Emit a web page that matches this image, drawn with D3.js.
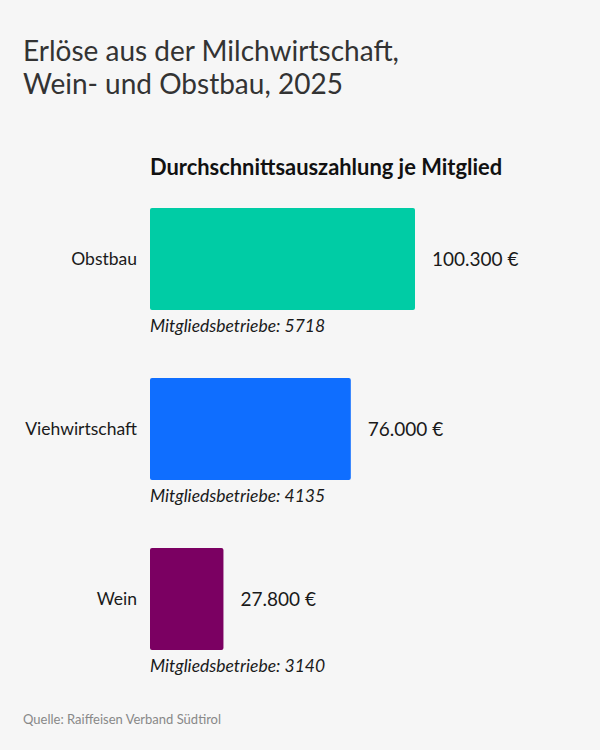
<!DOCTYPE html>
<html>
<head>
<meta charset="utf-8">
<script src="https://cdn.jsdelivr.net/npm/d3@7"></script>
<style>
  html, body { margin: 0; padding: 0; background: #f6f6f6; }
  svg { display: block; font-family: Lato, "Noto Sans", sans-serif; }
</style>
</head>
<body>
<div id="chart"></div>
<script>
const categories = ["Obstbau", "Viehwirtschaft", "Wein"];
const values = [100300, 76000, 27800];
const members = [5718, 4135, 3140];
const colors = ["#00cca5", "#0f6eff", "#7b0062"];
const titleLines = ["Erlöse aus der Milchwirtschaft,", "Wein- und Obstbau, 2025"];
const subtitle = "Durchschnittsauszahlung je Mitglied";
const source = "Quelle: Raiffeisen Verband Südtirol";

const W = 600, H = 750;
const svg = d3.select("#chart").append("svg").attr("width", W).attr("height", H);
svg.append("rect").attr("width", W).attr("height", H).attr("fill", "#f6f6f6");

const x = d3.scaleLinear().domain([0, d3.max(values)]).range([150, 415]);
const y = d3.scaleBand().domain(categories).range([208, 650]).paddingInner(0.4).paddingOuter(0);

const fmt = v => d3.format(",")(v).replace(/,/g, ".") + " €";

// Title
svg.append("g").selectAll("text").data(titleLines).join("text")
  .attr("x", 23).attr("y", (d, i) => 61 + i * 33)
  .attr("font-size", 28).attr("font-weight", 400).attr("fill", "#333")
  .text(d => d);

svg.append("text").attr("x", 150).attr("y", 175)
  .attr("font-size", 21.9).attr("font-weight", 700).attr("fill", "#111")
  .text(subtitle);

const g = svg.append("g");
const rows = g.selectAll("g.row").data(categories).join("g").attr("class", "row");

rows.append("rect")
  .attr("x", x(0)).attr("y", d => y(d))
  .attr("width", (d, i) => x(values[i]) - x(0))
  .attr("height", y.bandwidth())
  .attr("rx", 2)
  .attr("fill", (d, i) => colors[i]);

rows.append("text")
  .attr("x", 137).attr("y", d => y(d) + y.bandwidth() / 2 + 6)
  .attr("text-anchor", "end").attr("font-size", 17.5).attr("fill", "#1a1a1a")
  .text(d => d);

rows.append("text")
  .attr("x", (d, i) => x(values[i]) + 17).attr("y", d => y(d) + y.bandwidth() / 2 + 7)
  .attr("font-size", 19).attr("fill", "#1a1a1a")
  .text((d, i) => fmt(values[i]));

rows.append("text")
  .attr("x", x(0)).attr("y", d => y(d) + y.bandwidth() + 22)
  .attr("font-size", 17.5).attr("font-style", "italic").attr("fill", "#1a1a1a")
  .text((d, i) => "Mitgliedsbetriebe: " + members[i]);

svg.append("text").attr("x", 23).attr("y", 724)
  .attr("font-size", 13).attr("fill", "#888")
  .text(source);
</script>
</body>
</html>
